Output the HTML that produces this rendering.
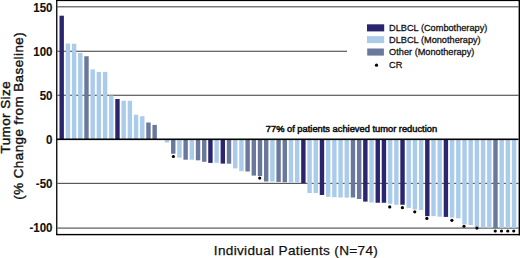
<!DOCTYPE html>
<html><head><meta charset="utf-8"><style>
html,body{margin:0;padding:0;background:#fff;}
body{width:520px;height:258px;overflow:hidden;}
svg{display:block;}
text{font-family:"Liberation Sans",sans-serif;fill:#111;}
</style></head><body>
<svg width="520" height="258" viewBox="0 0 520 258">
<rect width="520" height="258" fill="#fff"/>
<!-- gridlines -->
<g fill="#5a5a5a">
<rect x="57.5" y="6.2" width="461" height="1.2"/>
<rect x="57.5" y="50.7" width="289.5" height="1.2"/>
<rect x="57.5" y="94.7" width="461" height="1.2"/>
<rect x="57.5" y="182.8" width="461" height="1.2"/>
<rect x="57.5" y="227.5" width="461" height="1.2"/>
</g>
<!-- bars -->
<g>
<rect x="59.50" y="15.70" width="4.4" height="123.60" fill="#2a256e"/>
<rect x="65.70" y="43.50" width="4.4" height="95.80" fill="#abcbea"/>
<rect x="71.89" y="43.75" width="4.4" height="95.55" fill="#abcbea"/>
<rect x="78.09" y="53.00" width="4.4" height="86.30" fill="#abcbea"/>
<rect x="84.29" y="56.25" width="4.4" height="83.05" fill="#6a799b"/>
<rect x="90.48" y="69.40" width="4.4" height="69.90" fill="#abcbea"/>
<rect x="96.68" y="71.90" width="4.4" height="67.40" fill="#abcbea"/>
<rect x="102.88" y="71.90" width="4.4" height="67.40" fill="#abcbea"/>
<rect x="109.08" y="95.50" width="4.4" height="43.80" fill="#abcbea"/>
<rect x="115.27" y="99.00" width="4.4" height="40.30" fill="#2a256e"/>
<rect x="121.47" y="100.75" width="4.4" height="38.55" fill="#abcbea"/>
<rect x="127.67" y="100.75" width="4.4" height="38.55" fill="#abcbea"/>
<rect x="133.86" y="114.75" width="4.4" height="24.55" fill="#abcbea"/>
<rect x="140.06" y="116.25" width="4.4" height="23.05" fill="#abcbea"/>
<rect x="146.26" y="122.50" width="4.4" height="16.80" fill="#6a799b"/>
<rect x="152.45" y="124.90" width="4.4" height="14.40" fill="#6a799b"/>
<rect x="164.85" y="139.30" width="4.4" height="3.20" fill="#abcbea"/>
<rect x="171.05" y="139.30" width="4.4" height="14.45" fill="#6a799b"/>
<rect x="177.24" y="139.30" width="4.4" height="18.40" fill="#abcbea"/>
<rect x="183.44" y="139.30" width="4.4" height="20.40" fill="#6a799b"/>
<rect x="189.64" y="139.30" width="4.4" height="20.40" fill="#abcbea"/>
<rect x="195.83" y="139.30" width="4.4" height="21.00" fill="#6a799b"/>
<rect x="202.03" y="139.30" width="4.4" height="22.50" fill="#6a799b"/>
<rect x="208.23" y="139.30" width="4.4" height="23.60" fill="#2a256e"/>
<rect x="214.43" y="139.30" width="4.4" height="23.50" fill="#abcbea"/>
<rect x="220.62" y="139.30" width="4.4" height="24.30" fill="#2a256e"/>
<rect x="226.82" y="139.30" width="4.4" height="24.40" fill="#6a799b"/>
<rect x="233.02" y="139.30" width="4.4" height="29.10" fill="#abcbea"/>
<rect x="239.21" y="139.30" width="4.4" height="31.90" fill="#abcbea"/>
<rect x="245.41" y="139.30" width="4.4" height="32.20" fill="#6a799b"/>
<rect x="251.61" y="139.30" width="4.4" height="36.30" fill="#6a799b"/>
<rect x="257.80" y="139.30" width="4.4" height="36.70" fill="#6a799b"/>
<rect x="264.00" y="139.30" width="4.4" height="42.20" fill="#6a799b"/>
<rect x="270.20" y="139.30" width="4.4" height="42.20" fill="#abcbea"/>
<rect x="276.39" y="139.30" width="4.4" height="42.60" fill="#6a799b"/>
<rect x="282.59" y="139.30" width="4.4" height="42.90" fill="#6a799b"/>
<rect x="288.79" y="139.30" width="4.4" height="43.20" fill="#abcbea"/>
<rect x="294.99" y="139.30" width="4.4" height="43.20" fill="#abcbea"/>
<rect x="301.18" y="139.30" width="4.4" height="43.80" fill="#2a256e"/>
<rect x="307.38" y="139.30" width="4.4" height="53.70" fill="#abcbea"/>
<rect x="313.58" y="139.30" width="4.4" height="53.70" fill="#abcbea"/>
<rect x="319.77" y="139.30" width="4.4" height="55.70" fill="#2a256e"/>
<rect x="325.97" y="139.30" width="4.4" height="57.50" fill="#abcbea"/>
<rect x="332.17" y="139.30" width="4.4" height="57.90" fill="#abcbea"/>
<rect x="338.37" y="139.30" width="4.4" height="58.20" fill="#abcbea"/>
<rect x="344.56" y="139.30" width="4.4" height="58.30" fill="#abcbea"/>
<rect x="350.76" y="139.30" width="4.4" height="58.20" fill="#6a799b"/>
<rect x="356.96" y="139.30" width="4.4" height="59.70" fill="#6a799b"/>
<rect x="363.15" y="139.30" width="4.4" height="62.30" fill="#2a256e"/>
<rect x="369.35" y="139.30" width="4.4" height="63.20" fill="#abcbea"/>
<rect x="375.55" y="139.30" width="4.4" height="63.45" fill="#2a256e"/>
<rect x="381.74" y="139.30" width="4.4" height="63.45" fill="#2a256e"/>
<rect x="387.94" y="139.30" width="4.4" height="64.45" fill="#abcbea"/>
<rect x="394.14" y="139.30" width="4.4" height="65.45" fill="#abcbea"/>
<rect x="400.33" y="139.30" width="4.4" height="65.45" fill="#2a256e"/>
<rect x="406.53" y="139.30" width="4.4" height="68.60" fill="#abcbea"/>
<rect x="412.73" y="139.30" width="4.4" height="70.10" fill="#abcbea"/>
<rect x="418.93" y="139.30" width="4.4" height="70.70" fill="#abcbea"/>
<rect x="425.12" y="139.30" width="4.4" height="76.80" fill="#2a256e"/>
<rect x="431.32" y="139.30" width="4.4" height="76.80" fill="#abcbea"/>
<rect x="437.52" y="139.30" width="4.4" height="77.40" fill="#abcbea"/>
<rect x="443.71" y="139.30" width="4.4" height="77.60" fill="#2a256e"/>
<rect x="449.91" y="139.30" width="4.4" height="78.30" fill="#abcbea"/>
<rect x="456.11" y="139.30" width="4.4" height="79.00" fill="#abcbea"/>
<rect x="462.31" y="139.30" width="4.4" height="85.10" fill="#abcbea"/>
<rect x="468.50" y="139.30" width="4.4" height="85.70" fill="#abcbea"/>
<rect x="474.70" y="139.30" width="4.4" height="87.95" fill="#abcbea"/>
<rect x="480.90" y="139.30" width="4.4" height="88.20" fill="#abcbea"/>
<rect x="487.09" y="139.30" width="4.4" height="88.80" fill="#abcbea"/>
<rect x="493.29" y="139.30" width="4.4" height="88.80" fill="#6a799b"/>
<rect x="499.49" y="139.30" width="4.4" height="88.80" fill="#abcbea"/>
<rect x="505.68" y="139.30" width="4.4" height="88.80" fill="#abcbea"/>
<rect x="511.88" y="139.30" width="4.4" height="88.80" fill="#abcbea"/>
</g>
<!-- zero line -->
<rect x="57" y="138.5" width="461.5" height="1.6" fill="#000"/>
<!-- frame -->
<rect x="56.1" y="0" width="463.9" height="1.1" fill="#000"/>
<rect x="56.1" y="0" width="1.3" height="235" fill="#000"/>
<rect x="56.1" y="233.9" width="463.9" height="1.4" fill="#000"/>
<rect x="518.6" y="0" width="1.4" height="235.3" fill="#000"/>
<!-- CR dots -->
<g fill="#000">
<circle cx="173.4" cy="156.5" r="1.6"/>
<circle cx="259.75" cy="178.1" r="1.6"/>
<circle cx="389.75" cy="206.9" r="1.6"/>
<circle cx="402.4" cy="207.7" r="1.6"/>
<circle cx="414.75" cy="211.8" r="1.6"/>
<circle cx="426.9" cy="218.4" r="1.6"/>
<circle cx="451.9" cy="220.3" r="1.6"/>
<circle cx="464" cy="226.25" r="1.6"/>
<circle cx="476.9" cy="228.1" r="1.6"/>
<circle cx="495.25" cy="231" r="1.6"/>
<circle cx="501.5" cy="231" r="1.6"/>
<circle cx="507.75" cy="231" r="1.6"/>
<circle cx="513.75" cy="231" r="1.6"/>
</g>
<!-- legend -->
<rect x="367" y="24.3" width="17.2" height="7.1" fill="#2a256e"/>
<rect x="367" y="36.1" width="17.2" height="7" fill="#abcbea"/>
<rect x="367.2" y="48.5" width="16.7" height="7.1" fill="#6a799b"/>
<circle cx="376.5" cy="65.2" r="1.6" fill="#000"/>
<g font-size="9.6" transform="translate(389.1,0) scale(0.958,1)" stroke="#111" stroke-width="0.28">
<text x="0" y="30.6">DLBCL (Combotherapy)</text>
<text x="0" y="42.8">DLBCL (Monotherapy)</text>
<text x="0" y="55.1">Other (Monotherapy)</text>
<text x="0" y="67.7">CR</text>
</g>
<!-- annotation -->
<g transform="translate(265.8,131.6) scale(1.003,1)"><text x="0" y="0" font-size="9.3" stroke="#111" stroke-width="0.5">77% of patients achieved tumor reduction</text></g>
<!-- y tick labels -->
<g font-size="12.4" font-weight="bold" text-anchor="end" stroke="#111" stroke-width="0.1" transform="translate(52.5,0) scale(0.93,1)">
<text x="0" y="11.7">150</text>
<text x="0" y="55.7">100</text>
<text x="0" y="99.7">50</text>
<text x="0" y="143.7">0</text>
<text x="0" y="187.7">-50</text>
<text x="0" y="231.7">-100</text>
</g>
<!-- y axis title -->
<g font-size="13.4" text-anchor="middle" letter-spacing="0.45" stroke="#111" stroke-width="0.4">
<text transform="translate(9.5,117.2) rotate(-90)" letter-spacing="0.46">Tumor Size</text>
<text transform="translate(23.1,115.8) rotate(-90)">(% Change from Baseline)</text>
</g>
<!-- x axis title -->
<text x="213.8" y="254.6" font-size="13.6" letter-spacing="0.32" stroke="#111" stroke-width="0.25">Individual Patients (N=74)</text>
</svg>
</body></html>
